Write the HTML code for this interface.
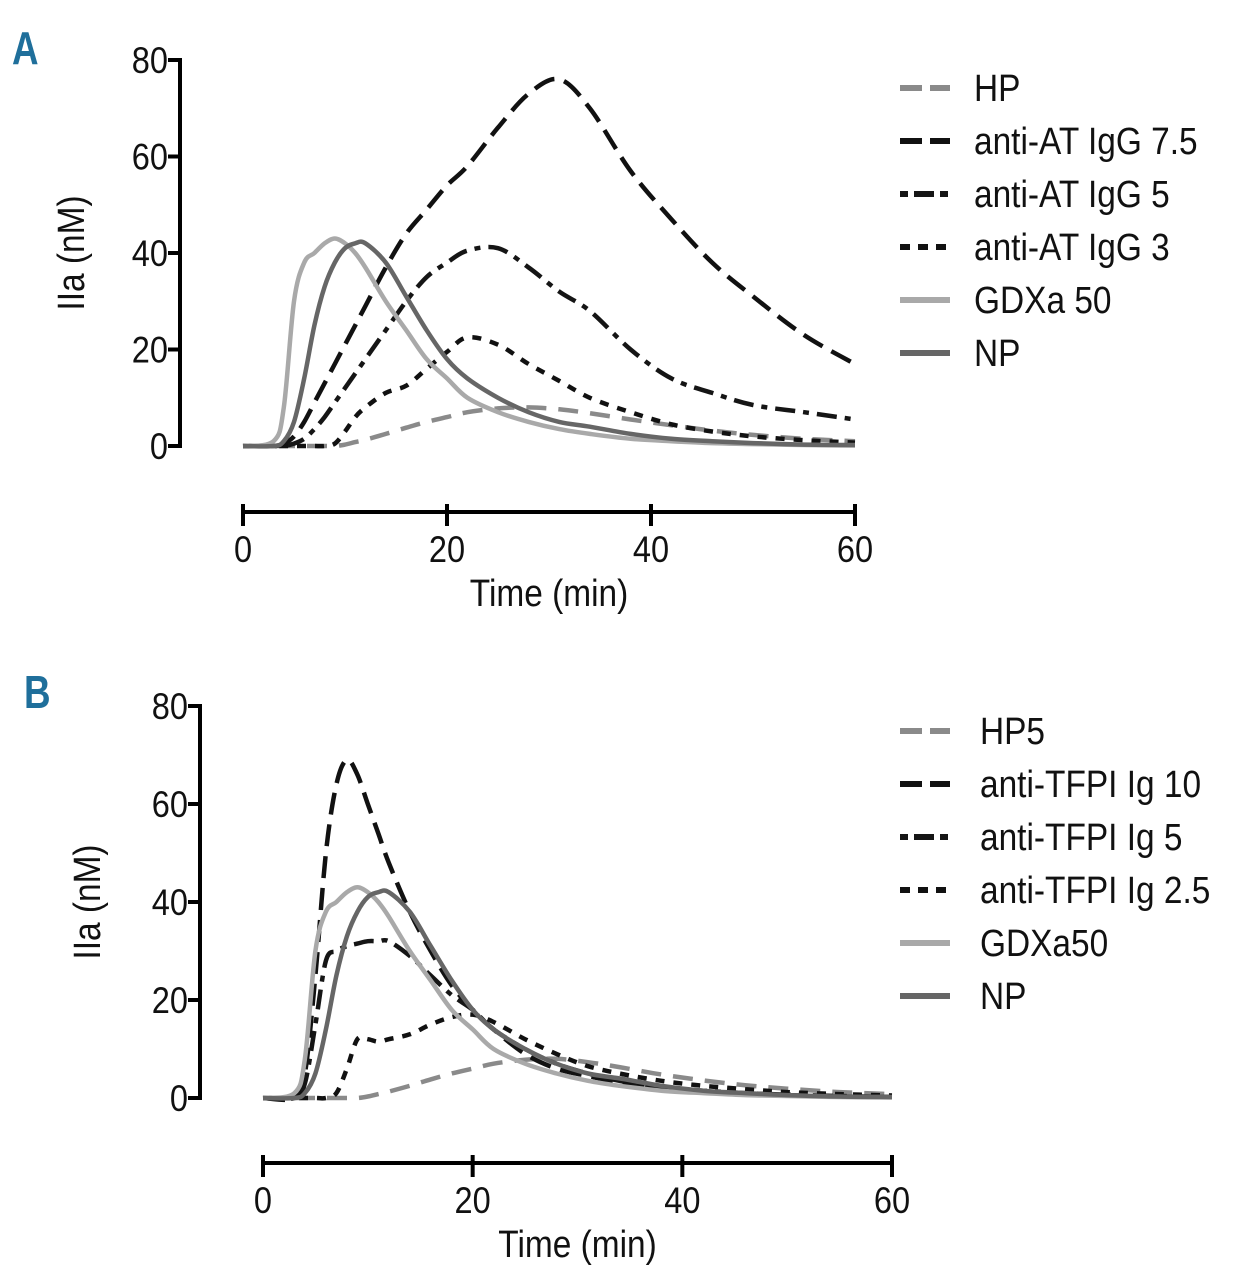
<!DOCTYPE html>
<html><head><meta charset="utf-8"><style>
html,body{margin:0;padding:0;background:#fff;}
svg{display:block;}
text{font-family:"Liberation Sans Narrow","Liberation Sans",sans-serif;fill:#111;}
</style></head><body>
<svg id="chart" width="1239" height="1280" viewBox="0 0 1239 1280"></svg>
<script>
const times=[0,3,4,5,6,7,8,9,10,11,12,14,16,18,20,22,25,28,31,34,38,42,46,50,55,60];
const yTicks=[0,20,40,60,80];
const xTicks=[0,20,40,60];
const namesA=["HP","anti-AT IgG 7.5","anti-AT IgG 5","anti-AT IgG 3","GDXa 50","NP"];
const namesB=["HP5","anti-TFPI Ig 10","anti-TFPI Ig 5","anti-TFPI Ig 2.5","GDXa50","NP"];
const hpA=[0,0,0,0,0,0,0,0,0.3,0.8,1.3,2.5,3.8,5,6,7,7.8,8,7.6,6.8,5.5,4.3,3.2,2.3,1.5,1];
const at75=[0,0,0.5,2,5,9,13,17,21,25,29,37,44,49,54,58,66,73,76,70,57,47,38,31,23,17];
const at5=[0,0,0,0.5,1.5,3.5,6,9,12,15,18,24,30,35,38,40.5,41,37,32,28,20,14,11,8.5,7,5.5];
const at3=[0,0,0,0,0,0,0,0.5,3,6,8,11,12.5,16,19.5,22.5,21,17,13.5,10,7,4.5,3,2,1.2,0.7];
const gdx=[0,1,8,30,38,40,42,43,42,40,37,30,24,18,14,10,7,5,3.5,2.5,1.5,1,0.6,0.4,0.2,0.1];
const np=[0,0,1,5,14,25,33,38,41,42,42,38,31,24,18,14,10,7,5,4,2.5,1.5,1,0.6,0.3,0.2];
const hpB=[0,0,0,0,0,0,0,0,0.3,0.8,1.3,2.5,3.8,5,6,7,7.8,8,7.3,6.3,4.8,3.6,2.6,1.9,1.2,0.8];
const tf10=[0,0,5,25,50,64,69,66,60,54,48,38,30,23,18,14,9,6,4.5,3.2,2,1.3,0.9,0.6,0.3,0.2];
const tf5=[0,0,3,15,28,30,31,31.5,32,32,32,29,25,21,18,14,10,7,5,3.5,2.2,1.5,1,0.7,0.4,0.2];
const tf25=[0,0,0,0,0,1,6,12,12,11.5,12,13,15,16.5,17,15.5,12,9,6.5,5,3.5,2.5,1.8,1.2,0.8,0.5];

const NS="http://www.w3.org/2000/svg";
const svg=document.getElementById('chart');
const SX=0.88;
function el(tag,attrs,parent){const e=document.createElementNS(NS,tag);for(const k in attrs)e.setAttribute(k,attrs[k]);(parent||svg).appendChild(e);return e;}
function txt(x,y,s,size,anchor,parent){
 const t=el('text',{x:x,y:y,'font-size':size,'text-anchor':anchor,transform:'translate('+x+',0) scale('+SX+',1) translate('+(-x)+',0)'},parent);
 t.textContent=s;return t;}
const styles=[
 {c:"#8a8a8a",d:"20 12"},
 {c:"#111",d:"22 10"},
 {c:"#151515",d:"20 8 6 8"},
 {c:"#111",d:"9 9"},
 {c:"#a9a9a9",d:""},
 {c:"#666",d:""}];
function pathD(pts){let d="M"+pts[0][0]+","+pts[0][1];
 for(let i=0;i<pts.length-1;i++){const p0=pts[Math.max(0,i-1)],p1=pts[i],p2=pts[i+1],p3=pts[Math.min(pts.length-1,i+2)];
  const c1=[p1[0]+(p2[0]-p0[0])/6,p1[1]+(p2[1]-p0[1])/6],c2=[p2[0]-(p3[0]-p1[0])/6,p2[1]-(p3[1]-p1[1])/6];
  d+=" C"+c1[0].toFixed(1)+","+c1[1].toFixed(1)+" "+c2[0].toFixed(1)+","+c2[1].toFixed(1)+" "+p2[0].toFixed(1)+","+p2[1].toFixed(1);}
 return d;}
function panel(cfg){
 const g=el('g',{});
 
 
 const X=t=>cfg.x0+(cfg.x1-cfg.x0)*t/60, Y=v=>cfg.y0-(cfg.y0-cfg.y80)*v/80;
 const lab=el('text',{x:cfg.lx,y:cfg.ly,'font-size':46,'font-weight':'bold',style:'fill:#1f6f9b',transform:'translate('+cfg.lx+',0) scale(0.8,1) translate('+(-cfg.lx)+',0)'},g);lab.textContent=cfg.id==='panel-a'?'A':'B';
 
 const ya=el('line',{x1:cfg.ax,y1:cfg.y80-2,x2:cfg.ax,y2:cfg.y0+2,stroke:'#000','stroke-width':4},g);
 
 yTicks.forEach(v=>{el('line',{x1:cfg.ax-12,y1:Y(v),x2:cfg.ax,y2:Y(v),stroke:'#000','stroke-width':4},g);
  const t=txt(cfg.ax-12,Y(v)+13,String(v),37,'end',g);
  });
 const xa=el('line',{x1:X(0)-2,y1:cfg.axy,x2:X(60)+2,y2:cfg.axy,stroke:'#000','stroke-width':4},g);
 
 xTicks.forEach(v=>{el('line',{x1:X(v),y1:cfg.axy-8,x2:X(v),y2:cfg.axy+14,stroke:'#000','stroke-width':4},g);
  const t=txt(X(v),cfg.axy+50,String(v),37,'middle',g);
  });
 const xt=txt((X(0)+X(60))/2,cfg.axy+94,'Time (min)',38,'middle',g);
 
 const yc=(cfg.y0+cfg.y80)/2;
 const yt=txt(cfg.ytx,yc,'IIa (nM)',38,'middle',g);
 yt.setAttribute('transform','rotate(-90 '+cfg.ytx+' '+yc+') translate('+cfg.ytx+',0) scale('+SX+',1) translate('+(-cfg.ytx)+',0)');
 
 cfg.series.forEach((s,i)=>{const st=styles[i];
  const p=el('path',{d:pathD(times.map((t,j)=>[X(t),Y(s[j])])),fill:'none',stroke:st.c,'stroke-width':4.5,'stroke-dasharray':st.d,'stroke-linejoin':'round'},g);
  
  
  const ly=cfg.legY+i*53;
  const ll=el('line',{x1:900,y1:ly,x2:950,y2:ly,stroke:st.c,'stroke-width':6,'stroke-dasharray':st.d?(i===3?'10 8':i===2?'8 6 20 6':'22 8'):''},g);
  
  const lt=txt(cfg.legX,ly+13,cfg.names[i],38,'start',g);
  });
}
panel({id:'panel-a',x0:243,x1:855,y0:446,y80:60,ax:180,axy:512,lx:12,ly:64,ytx:84,legY:88,legX:974,names:namesA,series:[hpA,at75,at5,at3,gdx,np]});
panel({id:'panel-b',x0:263,x1:892,y0:1098,y80:706,ax:200,axy:1163,lx:24,ly:708,ytx:100,legY:731,legX:980,names:namesB,series:[hpB,tf10,tf5,tf25,gdx,np]});
</script>
</body></html>
